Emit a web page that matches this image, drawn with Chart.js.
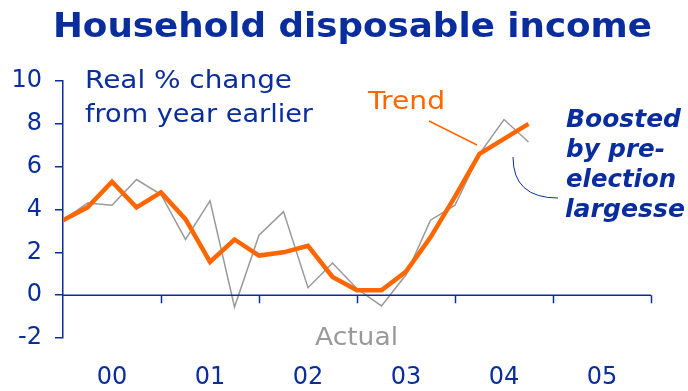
<!DOCTYPE html>
<html>
<head>
<meta charset="utf-8">
<script src="https://cdn.jsdelivr.net/npm/chart.js@4"></script>
<style>
  html, body { margin: 0; padding: 0; background: #fff; }
  #wrap { width: 688px; height: 391px; }
</style>
</head>
<body>
<div id="wrap"><canvas id="chart" width="688" height="391"></canvas></div>
<script>
// quarterly points, 2000 Q1 .. 2004 Q4 (x in quarters from start of 2000)
const quarters = [0, 1, 2, 3, 4, 5, 6, 7, 8, 9, 10, 11, 12, 13, 14, 15, 16, 17, 18, 19];
const actual   = [3.5, 4.3, 4.2, 5.4, 4.7, 2.6, 4.4, -0.55, 2.8, 3.9, 0.35, 1.5, 0.3, -0.5, 0.95, 3.5, 4.2, 6.6, 8.2, 7.15];
const trend    = [3.5, 4.1, 5.3, 4.1, 4.8, 3.55, 1.55, 2.6, 1.85, 2.0, 2.3, 0.85, 0.23, 0.23, 1.1, 2.7, 4.6, 6.6, 7.3, 8.0];
const yearLabels = ['00', '01', '02', '03', '04', '05'];
const yMin = -2, yMax = 10, yStep = 2;

const BLUE   = '#0a2d9e';
const ORANGE = '#ff6600';
const GREY   = '#999999';
const FONT   = '"DejaVu Sans", Verdana, sans-serif';

// draw a text stretched to a given width (the source lettering is wider than DejaVu)
function fitText(ctx, str, x, baseline, w, font, color) {
  ctx.save();
  ctx.font = font;
  ctx.fillStyle = color;
  ctx.textAlign = 'left';
  ctx.textBaseline = 'alphabetic';
  const m = ctx.measureText(str).width;
  ctx.translate(x, baseline);
  ctx.scale(w / m, 1);
  ctx.fillText(str, 0, 0);
  ctx.restore();
}

const decor = {
  id: 'decor',
  afterDatasetsDraw(chart) {
    const { ctx } = chart;
    const xs = chart.scales.x, ys = chart.scales.y;
    const y0 = ys.getPixelForValue(0);

    // zero line with year ticks hanging below it
    ctx.save();
    ctx.strokeStyle = BLUE;
    ctx.lineWidth = 1.5;
    ctx.beginPath();
    ctx.moveTo(xs.getPixelForValue(0), y0);
    ctx.lineTo(xs.getPixelForValue(24), y0);
    for (let q = 4; q <= 24; q += 4) {
      const px = Math.round(xs.getPixelForValue(q)) + 0.5;
      ctx.moveTo(px, y0);
      ctx.lineTo(px, y0 + 8);
    }
    ctx.stroke();
    ctx.restore();

    // year labels centred in each year
    ctx.save();
    ctx.font = '24px ' + FONT;
    ctx.fillStyle = BLUE;
    ctx.textAlign = 'center';
    ctx.textBaseline = 'middle';
    yearLabels.forEach((lab, i) => {
      ctx.fillText(lab, xs.getPixelForValue(i * 4 + 2), 378);
    });
    ctx.restore();

    // title and notes
    fitText(ctx, 'Household disposable income', 53, 37, 599, 'bold 33px ' + FONT, BLUE);
    fitText(ctx, 'Real % change', 85, 88, 207, '24px ' + FONT, BLUE);
    fitText(ctx, 'from year earlier', 85, 122, 228, '24px ' + FONT, BLUE);
    fitText(ctx, 'Trend', 368, 109, 77, '24px ' + FONT, ORANGE);
    fitText(ctx, 'Actual', 315, 345, 83, '25px ' + FONT, GREY);

    const bi = 'italic bold 25px ' + FONT;
    fitText(ctx, 'Boosted', 566, 127, 115, bi, BLUE);
    fitText(ctx, 'by pre-', 566, 157, 99, bi, BLUE);
    fitText(ctx, 'election', 566, 187, 110, bi, BLUE);
    fitText(ctx, 'largesse', 565, 217, 120, bi, BLUE);

    // leader lines
    ctx.save();
    ctx.strokeStyle = ORANGE;
    ctx.lineWidth = 1.5;
    ctx.beginPath();
    ctx.moveTo(429, 121);
    ctx.lineTo(477, 145);
    ctx.stroke();
    ctx.strokeStyle = BLUE;
    ctx.lineWidth = 1;
    ctx.beginPath();
    ctx.moveTo(513, 157);
    ctx.quadraticCurveTo(513, 198, 558, 198);
    ctx.stroke();
    ctx.restore();
  }
};

new Chart(document.getElementById('chart'), {
  type: 'line',
  data: {
    datasets: [
      {
        label: 'Trend',
        data: quarters.map((q, i) => ({ x: q, y: trend[i] })),
        borderColor: ORANGE,
        borderWidth: 4.5,
        pointRadius: 0,
        tension: 0,
        borderJoinStyle: 'miter',
      },
      {
        label: 'Actual',
        data: quarters.map((q, i) => ({ x: q, y: actual[i] })),
        borderColor: GREY,
        borderWidth: 1.5,
        pointRadius: 0,
        tension: 0,
      },
    ],
  },
  options: {
    responsive: false,
    animation: false,
    layout: { padding: { top: 81, right: 37, bottom: 53, left: 0 } },
    plugins: { legend: { display: false }, tooltip: { enabled: false } },
    scales: {
      x: { type: 'linear', min: 0, max: 24, display: false },
      y: {
        min: yMin,
        max: yMax,
        afterFit: s => { s.width = 63; },
        ticks: { stepSize: yStep, color: BLUE, padding: 13, font: { family: FONT, size: 24 } },
        grid: { drawOnChartArea: false, drawTicks: true, tickLength: 8, color: BLUE, lineWidth: 1.5 },
        border: { color: BLUE, width: 1.5 },
      },
    },
  },
  plugins: [decor],
});
</script>
</body>
</html>
